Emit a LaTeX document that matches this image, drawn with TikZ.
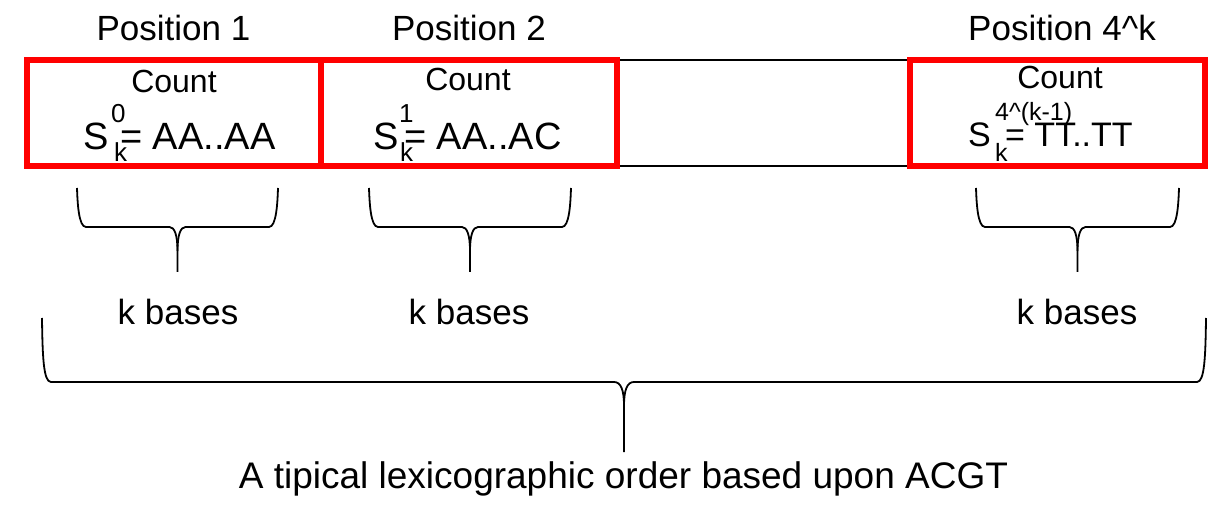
\documentclass[tikz,border=0pt]{standalone}
\usepackage{fontspec}
\setmainfont{Liberation Sans}
\newcommand{\lexbrace}[6]{% #1 left, #2 right, #3 top, #4 horizontal, #5 bottom, #6 cusp half width
  \draw[bracestyle] (#1,#3) .. controls (#1+0.5,#4-25) and (#1+1.5,#4) .. (#1+9,#4)
    -- ({(#1+#2)/2-#6},#4) .. controls ({(#1+#2)/2-3},#4) and ({(#1+#2)/2},#4+8) .. ({(#1+#2)/2},#4+24)
    -- ({(#1+#2)/2},#5);
  \draw[bracestyle] (#2,#3) .. controls (#2-0.5,#4-25) and (#2-1.5,#4) .. (#2-9,#4)
    -- ({(#1+#2)/2+#6},#4) .. controls ({(#1+#2)/2+3},#4) and ({(#1+#2)/2},#4+8) .. ({(#1+#2)/2},#4+24);
}
\begin{document}
\begin{tikzpicture}[x=1pt,y=-1pt,
  boxarea/.style={minimum height=106pt,inner sep=0pt,outer sep=0pt},
  redframe/.style={draw=red,line width=6pt},
  thinline/.style={draw=black,line width=2pt},
  bracestyle/.style={draw=black,line width=1.8pt},
  tbig/.style={inner sep=0pt,anchor=base west,font=\fontsize{38}{40}\selectfont},
  tmid/.style={inner sep=0pt,anchor=base west,font=\fontsize{34}{36}\selectfont},
  tsmall/.style={inner sep=0pt,anchor=base west,font=\fontsize{26}{28}\selectfont},
  tsmaller/.style={inner sep=0pt,anchor=base west,font=\fontsize{25}{27}\selectfont},
  tcount/.style={inner sep=0pt,anchor=base,font=\fontsize{32}{34}\selectfont},
  tlabel/.style={inner sep=0pt,anchor=base,font=\fontsize{35}{38}\selectfont},
  tbottom/.style={inner sep=0pt,anchor=base,font=\fontsize{37}{40}\selectfont}]
\useasboundingbox (0,0) rectangle (1225,510);

% box areas
\node[boxarea,minimum width=294pt] (b1) at (174,113) {};
\node[boxarea,minimum width=296pt] (b2) at (469,113) {};
\node[boxarea,minimum width=295pt] (b3) at (1057.5,113) {};
\draw[thinline] (b2.north east) -- (b3.north west);
\draw[thinline] (b2.south east) -- (b3.south west);
\draw[redframe] (b1.north west) rectangle (b1.south east);
\draw[redframe] (b2.north west) rectangle (b2.south east);
\draw[redframe] (b3.north west) rectangle (b3.south east);

% headings
\node[tlabel] (p1) at (173.5,41) {Position 1};
\node[tlabel] (p2) at (469,41) {Position 2};
\node[tlabel] (p3) at (1062,41) {Position 4\^{}k};

% box contents
\node[tcount] (c1) at (174,93) {Count};
\node[tbig] (s1) at (83,150) {S};
\node[tsmall] (s1sup) at (111,123) {0};
\node[tsmall] (s1sub) at (114,162) {k};
\node[tbig] (s1eq) at (120,150) {= AA..AA};

\node[tcount] (c2) at (468,91) {Count};
\node[tbig] (s2) at (373,150) {S};
\node[tsmall] (s2sup) at (399,123) {1};
\node[tsmall] (s2sub) at (400,162) {k};
\node[tbig] (s2eq) at (404,150) {= AA..AC};

\node[tcount] (c3) at (1060,89) {Count};
\node[tmid] (s3) at (968,147) {S};
\node[tsmaller] (s3sup) at (995,121) {4\^{}(k-1)};
\node[tsmaller] (s3sub) at (995,162) {k};
\node[tmid] (s3eq) at (1005,147) {= TT..TT};

% braces
\lexbrace{77}{278}{188}{227}{272}{8}
\lexbrace{369}{571}{188}{227}{272}{8}
\lexbrace{976}{1179}{188}{227}{272}{8}
\lexbrace{42}{1206}{318}{382}{452}{10}

% labels
\node[tlabel] (k1) at (178,324) {k bases};
\node[tlabel] (k2) at (469,324) {k bases};
\node[tlabel] (k3) at (1077,324) {k bases};
\node[tbottom] (order) at (623.5,488) {A tipical lexicographic order based upon ACGT};
\end{tikzpicture}
\end{document}
